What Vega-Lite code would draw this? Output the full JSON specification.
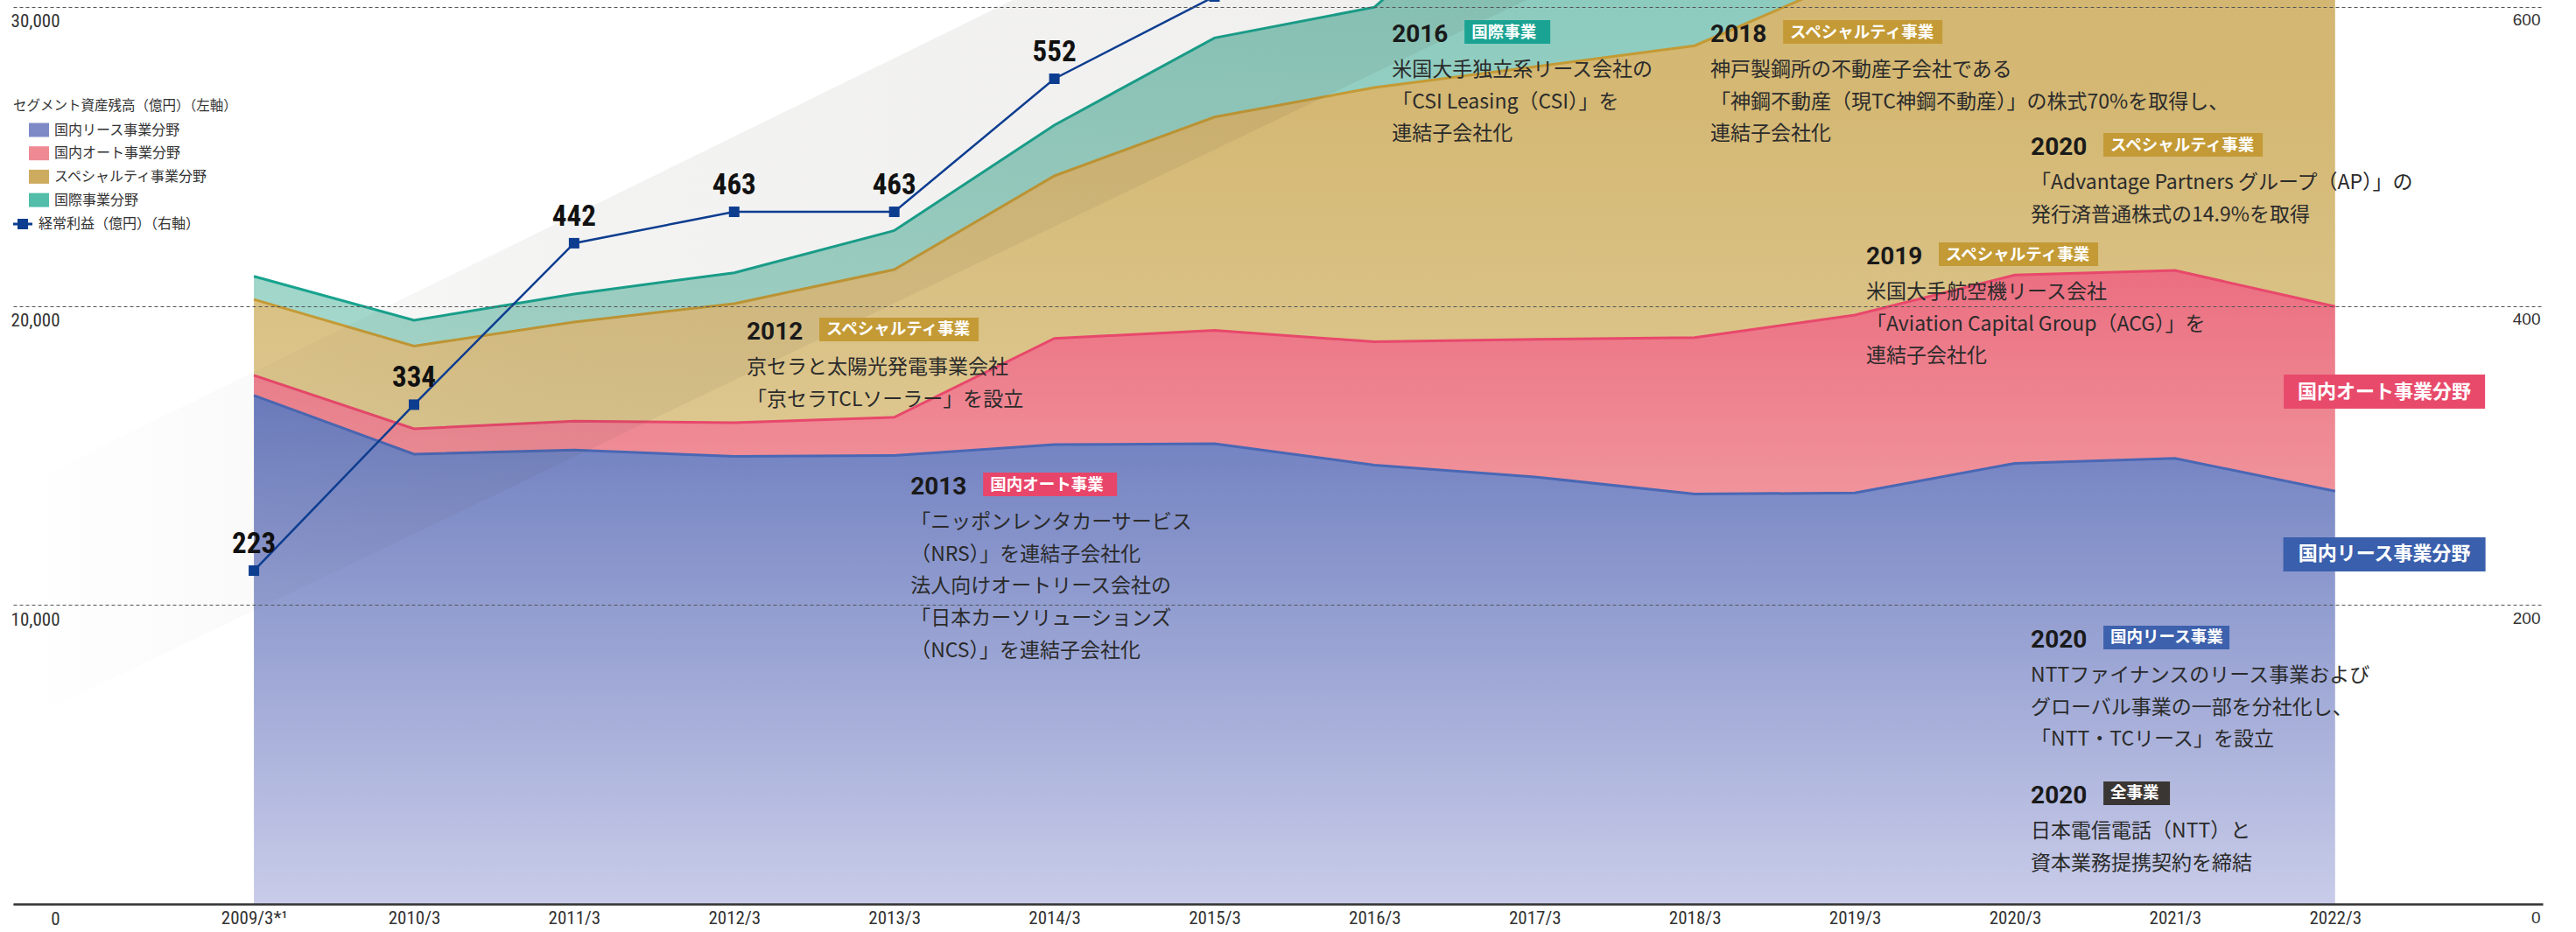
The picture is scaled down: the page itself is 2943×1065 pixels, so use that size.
{
  "$schema": "https://vega.github.io/schema/vega-lite/v6.json",
  "width": 2890,
  "height": 1033,
  "autosize": {"type": "none"},
  "padding": {"left": 15, "top": 0, "right": 38, "bottom": 32},
  "background": "white",
  "config": {
    "view": {"stroke": null},
    "font": "Noto Sans CJK JP",
    "axis": {"domain": false, "ticks": false, "tickSize": 0, "title": null, "grid": false},
    "legend": {"padding": 0, "labelFont": "Noto Sans CJK JP", "labelFontSize": 16, "labelColor": "#333333", "titleFont": "Noto Sans CJK JP", "titleFontSize": 15.5, "titleFontWeight": "normal", "titleColor": "#333333", "labelLimit": 600, "titleLimit": 600}
  },
  "datasets": {
    "seg": [
      {"yr": 2009, "seg": "国内リース事業分野", "ord": 1, "val": 17010},
      {"yr": 2010, "seg": "国内リース事業分野", "ord": 1, "val": 15045},
      {"yr": 2011, "seg": "国内リース事業分野", "ord": 1, "val": 15185},
      {"yr": 2012, "seg": "国内リース事業分野", "ord": 1, "val": 14972},
      {"yr": 2013, "seg": "国内リース事業分野", "ord": 1, "val": 14998},
      {"yr": 2014, "seg": "国内リース事業分野", "ord": 1, "val": 15364},
      {"yr": 2015, "seg": "国内リース事業分野", "ord": 1, "val": 15395},
      {"yr": 2016, "seg": "国内リース事業分野", "ord": 1, "val": 14681},
      {"yr": 2017, "seg": "国内リース事業分野", "ord": 1, "val": 14283},
      {"yr": 2018, "seg": "国内リース事業分野", "ord": 1, "val": 13712},
      {"yr": 2019, "seg": "国内リース事業分野", "ord": 1, "val": 13747},
      {"yr": 2020, "seg": "国内リース事業分野", "ord": 1, "val": 14739},
      {"yr": 2021, "seg": "国内リース事業分野", "ord": 1, "val": 14906},
      {"yr": 2022, "seg": "国内リース事業分野", "ord": 1, "val": 13809},
      {"yr": 2009, "seg": "国内オート事業分野", "ord": 2, "val": 670},
      {"yr": 2010, "seg": "国内オート事業分野", "ord": 2, "val": 850},
      {"yr": 2011, "seg": "国内オート事業分野", "ord": 2, "val": 963},
      {"yr": 2012, "seg": "国内オート事業分野", "ord": 2, "val": 1124},
      {"yr": 2013, "seg": "国内オート事業分野", "ord": 2, "val": 1280},
      {"yr": 2014, "seg": "国内オート事業分野", "ord": 2, "val": 3553},
      {"yr": 2015, "seg": "国内オート事業分野", "ord": 2, "val": 3787},
      {"yr": 2016, "seg": "国内オート事業分野", "ord": 2, "val": 4121},
      {"yr": 2017, "seg": "国内オート事業分野", "ord": 2, "val": 4601},
      {"yr": 2018, "seg": "国内オート事業分野", "ord": 2, "val": 5233},
      {"yr": 2019, "seg": "国内オート事業分野", "ord": 2, "val": 5950},
      {"yr": 2020, "seg": "国内オート事業分野", "ord": 2, "val": 6296},
      {"yr": 2021, "seg": "国内オート事業分野", "ord": 2, "val": 6284},
      {"yr": 2022, "seg": "国内オート事業分野", "ord": 2, "val": 6175},
      {"yr": 2009, "seg": "スペシャルティ事業分野", "ord": 3, "val": 2540},
      {"yr": 2010, "seg": "スペシャルティ事業分野", "ord": 3, "val": 2765},
      {"yr": 2011, "seg": "スペシャルティ事業分野", "ord": 3, "val": 3318},
      {"yr": 2012, "seg": "スペシャルティ事業分野", "ord": 3, "val": 3983},
      {"yr": 2013, "seg": "スペシャルティ事業分野", "ord": 3, "val": 4939},
      {"yr": 2014, "seg": "スペシャルティ事業分野", "ord": 3, "val": 5435},
      {"yr": 2015, "seg": "スペシャルティ事業分野", "ord": 3, "val": 7138},
      {"yr": 2016, "seg": "スペシャルティ事業分野", "ord": 3, "val": 8505},
      {"yr": 2017, "seg": "スペシャルティ事業分野", "ord": 3, "val": 9116},
      {"yr": 2018, "seg": "スペシャルティ事業分野", "ord": 3, "val": 9761},
      {"yr": 2019, "seg": "スペシャルティ事業分野", "ord": 3, "val": 11327},
      {"yr": 2020, "seg": "スペシャルティ事業分野", "ord": 3, "val": 12000},
      {"yr": 2021, "seg": "スペシャルティ事業分野", "ord": 3, "val": 12500},
      {"yr": 2022, "seg": "スペシャルティ事業分野", "ord": 3, "val": 13500},
      {"yr": 2009, "seg": "国際事業分野", "ord": 4, "val": 773},
      {"yr": 2010, "seg": "国際事業分野", "ord": 4, "val": 861},
      {"yr": 2011, "seg": "国際事業分野", "ord": 4, "val": 936},
      {"yr": 2012, "seg": "国際事業分野", "ord": 4, "val": 1033},
      {"yr": 2013, "seg": "国際事業分野", "ord": 4, "val": 1306},
      {"yr": 2014, "seg": "国際事業分野", "ord": 4, "val": 1698},
      {"yr": 2015, "seg": "国際事業分野", "ord": 4, "val": 2645},
      {"yr": 2016, "seg": "国際事業分野", "ord": 4, "val": 2687},
      {"yr": 2017, "seg": "国際事業分野", "ord": 4, "val": 6815},
      {"yr": 2018, "seg": "国際事業分野", "ord": 4, "val": 7200},
      {"yr": 2019, "seg": "国際事業分野", "ord": 4, "val": 7600},
      {"yr": 2020, "seg": "国際事業分野", "ord": 4, "val": 7900},
      {"yr": 2021, "seg": "国際事業分野", "ord": 4, "val": 7700},
      {"yr": 2022, "seg": "国際事業分野", "ord": 4, "val": 8300}
    ],
    "profit": [
      {"yr": 2009, "profit": 223},
      {"yr": 2010, "profit": 334},
      {"yr": 2011, "profit": 442},
      {"yr": 2012, "profit": 463},
      {"yr": 2013, "profit": 463},
      {"yr": 2014, "profit": 552},
      {"yr": 2015, "profit": 607}
    ],
    "legendkeys": [
      {"yr": 2030, "profit": 0, "seg": "国内リース事業分野"},
      {"yr": 2030, "profit": 0, "seg": "国内オート事業分野"},
      {"yr": 2030, "profit": 0, "seg": "スペシャルティ事業分野"},
      {"yr": 2030, "profit": 0, "seg": "国際事業分野"}
    ],
    "band": [
      {"yr": 2007.496, "v": 5947, "v2": 13855},
      {"yr": 2017.037, "v": 30462, "v2": 38880}
    ],
    "notes": [
      {"yr": 2012.078, "v": 18878, "year": "2012", "tag": "スペシャルティ事業", "body": ["京セラと太陽光発電事業会社", "「京セラTCLソーラー」を設立"]},
      {"yr": 2013.101, "v": 13697, "year": "2013", "tag": "国内オート事業", "body": ["「ニッポンレンタカーサービス", "（NRS）」を連結子会社化", "法人向けオートリース会社の", "「日本カーソリューションズ", "（NCS）」を連結子会社化"]},
      {"yr": 2016.108, "v": 28829, "year": "2016", "tag": "国際事業", "body": ["米国大手独立系リース会社の", "「CSI Leasing（CSI）」を", "連結子会社化"]},
      {"yr": 2018.098, "v": 28829, "year": "2018", "tag": "スペシャルティ事業", "body": ["神戸製鋼所の不動産子会社である", "「神鋼不動産（現TC神鋼不動産）」の株式70%を取得し、", "連結子会社化"]},
      {"yr": 2020.099, "v": 25053, "year": "2020", "tag": "スペシャルティ事業", "body": ["「Advantage Partners グループ（AP）」の", "発行済普通株式の14.9%を取得"]},
      {"yr": 2019.071, "v": 21395, "year": "2019", "tag": "スペシャルティ事業", "body": ["米国大手航空機リース会社", "「Aviation Capital Group（ACG）」を", "連結子会社化"]},
      {"yr": 2020.099, "v": 8576, "year": "2020", "tag": "国内リース事業", "body": ["NTTファイナンスのリース事業および", "グローバル事業の一部を分社化し、", "「NTT・TCリース」を設立"]},
      {"yr": 2020.099, "v": 3366, "year": "2020", "tag": "全事業", "body": ["日本電信電話（NTT）と", "資本業務提携契約を締結"]},
      {"yr": 2022.308, "v": 17136, "tag": "国内オート事業分野"},
      {"yr": 2022.308, "v": 11693, "tag": "国内リース事業分野"}
    ]
  },
  "encoding": {
    "x": {
      "field": "yr", "type": "quantitative",
      "scale": {"domain": [2007.496, 2023.297], "nice": false, "zero": false},
      "axis": {
        "values": [2009, 2010, 2011, 2012, 2013, 2014, 2015, 2016, 2017, 2018, 2019, 2020, 2021, 2022],
        "labelExpr": "datum.value === 2009 ? '2009/3*¹' : datum.value + '/3'",
        "domain": true, "domainColor": "#333333", "domainWidth": 2.5,
        "labelFont": "Liberation Sans Narrow, Roboto Condensed, Liberation Sans",
        "labelFontSize": 21, "labelColor": "#333333", "labelPadding": 5,
        "labelFlush": false, "labelOverlap": false, "grid": false, "zindex": 1
      }
    }
  },
  "layer": [
    {
      "encoding": {
        "y": {
          "field": "v", "type": "quantitative",
          "scale": {"domain": [0, 30234], "nice": false, "zero": true},
          "axis": {
            "values": [0, 10000, 20000, 30000], "format": ",d",
            "grid": true, "gridDash": [4, 3], "gridColor": "#555555", "gridWidth": 1.2,
            "labelAlign": "right", "labelBaseline": "top", "labelPadding": -53, "labelOffset": 6,
            "labelFont": "Liberation Sans Narrow, Roboto Condensed, Liberation Sans",
            "labelFontSize": 21, "labelColor": "#333333", "zindex": 1
          }
        }
      },
      "layer": [
        {
          "data": {"name": "seg"},
          "transform": [
            {"stack": "val", "groupby": ["yr"], "sort": [{"field": "ord", "order": "ascending"}], "as": ["v0", "v"]},
            {"filter": "datum.seg === '国内リース事業分野'"}
          ],
          "mark": {"type": "area", "clip": true, "fill": {"gradient": "linear", "x1": 0, "y1": 0, "x2": 0, "y2": 1, "stops": [{"offset": 0, "color": "#6b7cbe"}, {"offset": 1, "color": "#c9cce9"}]}},
          "encoding": {"y2": {"field": "v0"}}
        },
        {
          "data": {"name": "seg"},
          "transform": [
            {"stack": "val", "groupby": ["yr"], "sort": [{"field": "ord", "order": "ascending"}], "as": ["v0", "v"]},
            {"filter": "datum.seg === '国内オート事業分野'"}
          ],
          "mark": {"type": "area", "clip": true, "fill": {"gradient": "linear", "x1": 0, "y1": 0, "x2": 0, "y2": 1, "stops": [{"offset": 0, "color": "#eb6f81"}, {"offset": 1, "color": "#f0939b"}]}},
          "encoding": {"y2": {"field": "v0"}}
        },
        {
          "data": {"name": "seg"},
          "transform": [
            {"stack": "val", "groupby": ["yr"], "sort": [{"field": "ord", "order": "ascending"}], "as": ["v0", "v"]},
            {"filter": "datum.seg === 'スペシャルティ事業分野'"}
          ],
          "mark": {"type": "area", "clip": true, "fill": {"gradient": "linear", "x1": 0, "y1": 0, "x2": 0, "y2": 1, "stops": [{"offset": 0, "color": "#d2b56f"}, {"offset": 0.4, "color": "#d4b874"}, {"offset": 1, "color": "#ddc78f"}]}},
          "encoding": {"y2": {"field": "v0"}}
        },
        {
          "data": {"name": "seg"},
          "transform": [
            {"stack": "val", "groupby": ["yr"], "sort": [{"field": "ord", "order": "ascending"}], "as": ["v0", "v"]},
            {"filter": "datum.seg === '国際事業分野'"}
          ],
          "mark": {"type": "area", "clip": true, "fill": {"gradient": "linear", "x1": 0, "y1": 0, "x2": 0, "y2": 1, "stops": [{"offset": 0, "color": "#80c6b8"}, {"offset": 0.5, "color": "#8ccbbe"}, {"offset": 1, "color": "#a5d8cc"}]}},
          "encoding": {"y2": {"field": "v0"}}
        },
        {
          "data": {"name": "seg"},
          "transform": [
            {"stack": "val", "groupby": ["yr"], "sort": [{"field": "ord", "order": "ascending"}], "as": ["v0", "v"]}
          ],
          "mark": {"type": "line", "clip": true, "strokeWidth": 3},
          "encoding": {
            "stroke": {
              "field": "seg", "type": "nominal", "legend": null,
              "scale": {"domain": ["国内リース事業分野", "国内オート事業分野", "スペシャルティ事業分野", "国際事業分野"], "range": ["#4a67b4", "#e8486b", "#c49a35", "#17a38e"]}
            }
          }
        },
        {
          "data": {"name": "band"},
          "mark": {"type": "area", "clip": true, "fill": {"gradient": "linear", "x1": 0, "y1": 0, "x2": 1, "y2": 0, "stops": [{"offset": 0, "color": "rgba(60,50,40,0)"}, {"offset": 0.15, "color": "rgba(60,50,40,0.025)"}, {"offset": 0.35, "color": "rgba(60,50,40,0.06)"}, {"offset": 1, "color": "rgba(60,50,40,0.08)"}]}},
          "encoding": {"y2": {"field": "v2"}}
        },
        {
          "data": {"name": "notes"},
          "mark": {"type": "point", "filled": true, "opacity": 1, "size": 4, "strokeWidth": 0},
          "encoding": {
            "shape": {
              "field": "tag", "type": "nominal", "legend": null,
              "scale": {
                "domain": ["スペシャルティ事業", "国内オート事業", "国際事業", "国内リース事業", "全事業", "国内オート事業分野", "国内リース事業分野"],
                "range": ["M83,-25H265V2H83Z", "M83,-25H236V2H83Z", "M83,-25H181V2H83Z", "M83,-25H227V2H83Z", "M83,-25H159V2H83Z", "M-115,-19.5H115V19.5H-115Z", "M-115.5,-19.5H115.5V19.5H-115.5Z"]
              }
            },
            "color": {
              "field": "tag", "type": "nominal", "legend": null,
              "scale": {
                "domain": ["スペシャルティ事業", "国内オート事業", "国際事業", "国内リース事業", "全事業", "国内オート事業分野", "国内リース事業分野"],
                "range": ["#c39a35", "#e8456a", "#1aa393", "#3d61ad", "#3a3633", "#e84a6b", "#3a5fac"]
              }
            }
          }
        },
        {
          "data": {"name": "notes"},
          "transform": [{"filter": "isValid(datum.year)"}],
          "mark": {"type": "text", "align": "left", "baseline": "alphabetic", "font": "Roboto", "fontWeight": "bold", "fontSize": 28, "color": "#1a1a1a"},
          "encoding": {"text": {"field": "year", "type": "nominal"}}
        },
        {
          "data": {"name": "notes"},
          "transform": [{"filter": "isValid(datum.year)"}],
          "mark": {"type": "text", "align": "left", "baseline": "middle", "dx": 91, "dy": -11.5, "font": "Noto Sans CJK JP", "fontWeight": "bold", "fontSize": 18.5, "color": "#ffffff"},
          "encoding": {"text": {"field": "tag", "type": "nominal"}}
        },
        {
          "data": {"name": "notes"},
          "transform": [{"filter": "isValid(datum.year)"}],
          "mark": {"type": "text", "align": "left", "baseline": "alphabetic", "dy": 39, "lineHeight": 36.7, "font": "Noto Sans CJK JP", "fontSize": 23, "color": "#2b2b2b"},
          "encoding": {"text": {"field": "body", "type": "nominal"}}
        },
        {
          "data": {"name": "notes"},
          "transform": [{"filter": "!isValid(datum.year)"}],
          "mark": {"type": "text", "align": "center", "baseline": "middle", "font": "Noto Sans CJK JP", "fontWeight": "bold", "fontSize": 22, "color": "#ffffff"},
          "encoding": {"text": {"field": "tag", "type": "nominal"}}
        }
      ]
    },
    {
      "data": {"name": "profit"},
      "encoding": {
        "y": {
          "field": "profit", "type": "quantitative",
          "scale": {"domain": [0, 604.68], "nice": false, "zero": true},
          "axis": {
            "orient": "right", "values": [0, 200, 400, 600], "grid": false,
            "labelAlign": "right", "labelBaseline": "top", "labelPadding": -3, "labelOffset": 6,
            "labelFont": "Liberation Sans", "labelFontSize": 19, "labelColor": "#333333", "zindex": 1
          }
        }
      },
      "layer": [
        {
          "mark": {"type": "line", "clip": true, "color": "#0d3d8f", "strokeWidth": 2.5}
        },
        {
          "mark": {"type": "point", "shape": "square", "filled": true, "size": 144, "opacity": 1, "color": "#0d3d8f", "clip": true}
        },
        {
          "transform": [{"filter": "datum.profit < 600"}],
          "mark": {"type": "text", "align": "center", "baseline": "alphabetic", "dy": -20, "font": "Liberation Sans Narrow, Roboto Condensed, Liberation Sans", "fontWeight": "bold", "fontSize": 33, "color": "#111111"},
          "encoding": {"text": {"field": "profit", "type": "quantitative"}}
        },
        {
          "data": {"name": "legendkeys"},
          "mark": {"type": "square", "opacity": 0, "clip": true},
          "encoding": {
            "color": {
              "field": "seg", "type": "nominal",
              "scale": {"domain": ["国内リース事業分野", "国内オート事業分野", "スペシャルティ事業分野", "国際事業分野"], "range": ["#7e8ac5", "#ef8a94", "#cdac60", "#52bda9"]},
              "legend": {
                "orient": "none", "legendX": 0, "legendY": 113.5, "direction": "vertical",
                "title": "セグメント資産残高（億円）（左軸）", "titleAnchor": "start", "titlePadding": 11.5,
                "symbolType": "M-1.4375,-1H1.4375V1H-1.4375Z", "symbolSize": 256, "symbolOffset": 21.5,
                "labelOffset": 9.5, "rowPadding": 10.7, "symbolOpacity": 1, "symbolStrokeWidth": 0
              }
            }
          }
        },
        {
          "transform": [{"filter": "datum.yr === 2009"}],
          "mark": {"type": "point", "filled": true, "opacity": 0, "color": "#0d3d8f"},
          "encoding": {
            "shape": {
              "datum": "経常利益（億円）（右軸）",
              "scale": {"range": ["M-1.833,-0.25H1.833V0.25H-1.833Z M-1,-1H1V1H-1Z"]},
              "legend": {
                "orient": "none", "legendX": 0, "legendY": 248, "title": null,
                "symbolSize": 144, "symbolOffset": 3, "labelOffset": 10,
                "symbolOpacity": 1, "symbolFillColor": "#0d3d8f", "symbolStrokeWidth": 0
              }
            }
          }
        }
      ]
    }
  ],
  "resolve": {"scale": {"y": "independent", "shape": "independent", "color": "independent"}, "axis": {"y": "independent"}, "legend": {"shape": "independent", "color": "independent"}}
}
